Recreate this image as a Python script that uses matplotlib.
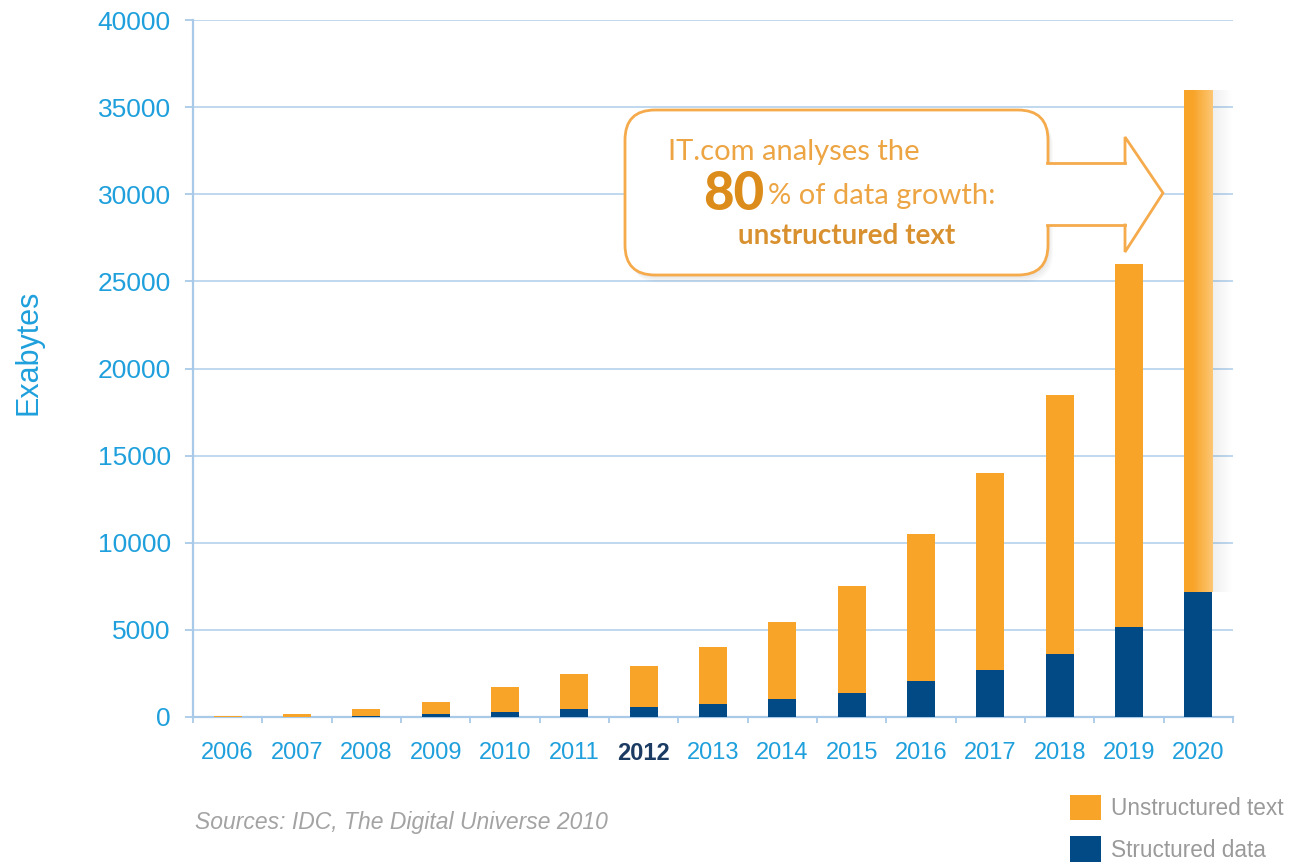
import numpy as np
import matplotlib
matplotlib.use("Agg")
import matplotlib.pyplot as plt
from matplotlib.patches import FancyBboxPatch, Polygon, Patch
from matplotlib.colors import LinearSegmentedColormap

# dados (Exabytes)
anos = ['2006', '2007', '2008', '2009', '2010', '2011', '2012', '2013',
        '2014', '2015', '2016', '2017', '2018', '2019', '2020']
estruturado = [10, 20, 40, 150, 300, 450, 570, 750, 1050, 1400, 2050, 2700, 3600, 5150, 7200]
nao_estruturado = [70, 180, 400, 700, 1420, 2000, 2380, 3250, 4400, 6100, 8450, 11300, 14900, 20850, 28800]
yticks = [0, 5000, 10000, 15000, 20000, 25000, 30000, 35000, 40000]

laranja = '#f8a429'
azul = '#014a86'
ciano = '#1fa0dc'
linha = '#a9c9e8'

plt.rcParams['font.family'] = ['Liberation Sans', 'DejaVu Sans']

fig = plt.figure(figsize=(12.9, 8.67), dpi=100)
W, H = 1290, 867
ax = fig.add_axes([193 / W, 1 - 717 / H, (1233 - 193) / W, (717 - 20) / H])

x = np.arange(len(anos))
barras_e = ax.bar(x, estruturado, width=0.4, color=azul, zorder=3)
barras_u = ax.bar(x, nao_estruturado, width=0.4, bottom=estruturado, color=laranja, zorder=3)

# degradê na última barra
p = barras_u[-1]
x0, w, y0, h = p.get_x(), p.get_width(), p.get_y(), p.get_height()
grad = LinearSegmentedColormap.from_list('g', [laranja, '#fdc774'])
ax.imshow(np.linspace(0, 1, 64).reshape(1, -1), cmap=grad, aspect='auto',
          extent=[x0 + w * 0.3, x0 + w, y0, y0 + h], zorder=4)
sombra = np.zeros((1, 64, 4))
sombra[..., 3] = np.linspace(0.07, 0, 64)
ax.imshow(sombra, aspect='auto', extent=[x0 + w, x0 + w + 0.3, y0, y0 + h], zorder=2)

ax.set_xlim(-0.5, len(anos) - 0.5)
ax.set_ylim(0, 40000)
ax.set_yticks(yticks)
ax.set_yticklabels([str(v) for v in yticks])
ax.yaxis.grid(True, color='#bad6ee', lw=1.3)
ax.set_axisbelow(True)

for s in ['top', 'right']:
    ax.spines[s].set_visible(False)
for s in ['left', 'bottom']:
    ax.spines[s].set_color(linha)
    ax.spines[s].set_linewidth(1.6)

ax.tick_params(axis='y', direction='out', length=6, width=1.3, color=linha,
               labelcolor=ciano, labelsize=19, pad=10)
ax.set_xticks(x)
ax.set_xticklabels(anos)
ax.set_xticks(np.arange(-0.5, len(anos), 1), minor=True)
ax.tick_params(axis='x', which='major', length=0, labelcolor=ciano, labelsize=17, pad=18)
ax.tick_params(axis='x', which='minor', direction='out', length=4, width=1.3, color=linha)
lab = ax.get_xticklabels()[anos.index('2012')]
lab.set_fontweight('bold')
lab.set_color('#1c3b63')

fig.text(28 / W, 1 - 352 / H, 'Exabytes', rotation=90, color=ciano, fontsize=22,
         ha='center', va='center')
fig.text(195 / W, 1 - 822 / H, 'Sources: IDC, The Digital Universe 2010', style='italic',
         color='#a3a3a3', fontsize=16.5, va='center')

fig.legend(handles=[Patch(fc=laranja, label='Unstructured text'),
                    Patch(fc=azul, label='Structured data')],
           loc='upper left', bbox_to_anchor=(1070 / W, 1 - 795 / H), frameon=False,
           fontsize=16.3, handlelength=1.35, handleheight=1.35, labelcolor='#9a9a9a',
           handletextpad=0.45, labelspacing=0.7, borderpad=0, borderaxespad=0)

# balão com seta (coordenadas em pixels)
ov = fig.add_axes([0, 0, 1, 1])
ov.set_xlim(0, W)
ov.set_ylim(H, 0)
ov.axis('off')

for k in range(1, 6):
    ov.add_patch(FancyBboxPatch((625 + k, 110 + k * 1.5), 423, 165,
                                boxstyle='round,pad=0,rounding_size=30',
                                fc='black', ec='none', alpha=0.02))
ov.add_patch(FancyBboxPatch((625, 110), 423, 165, boxstyle='round,pad=0,rounding_size=30',
                            fc='white', ec='#f5aa4c', lw=2, zorder=2))
seta = [(1044, 163), (1125, 163), (1125, 137), (1163, 193), (1125, 252), (1125, 225), (1044, 225)]
ov.add_patch(Polygon(seta, closed=True, fc='white', ec='none', zorder=3))
sx, sy = zip(*seta)
ov.plot(sx[1:-1], sy[1:-1], color='#f5aa4c', lw=2, zorder=4, solid_joinstyle='miter')
ov.plot([1047, 1125], [163, 163], color='#f5aa4c', lw=2, zorder=4)
ov.plot([1047, 1125], [225, 225], color='#f5aa4c', lw=2, zorder=4)

ov.text(668, 152, 'IT.com analyses the', family='Lato', fontsize=21,
        color='#eda544', va='center', ha='left', zorder=5)
ov.text(703, 194, '80', family='Lato', fontsize=38, fontweight='black', color='#dc8c1a',
        va='center', ha='left', zorder=5)
ov.text(768, 196, '% of data growth:', family='Lato', fontsize=21,
        color='#eda544', va='center', ha='left', zorder=5)
ov.text(738, 236, 'unstructured text', family='Lato', fontsize=20, fontweight='bold',
        color='#d99130', va='center', ha='left', zorder=5)

fig.savefig('out.png', dpi=100)
